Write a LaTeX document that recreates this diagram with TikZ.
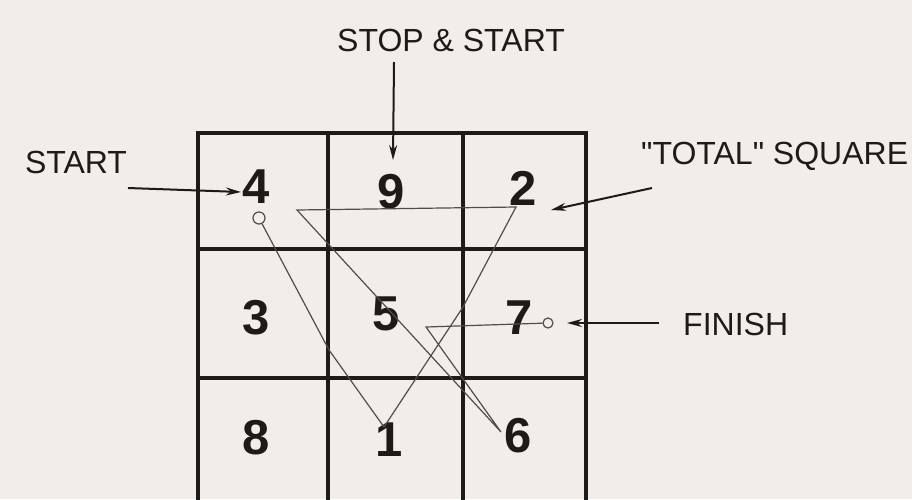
\documentclass[tikz,border=0pt]{standalone}
\usepackage{fontspec}
\setmainfont{Liberation Sans}[Ligatures=TeXOff]
\usetikzlibrary{arrows.meta}
\definecolor{paper}{RGB}{241,237,233}
\definecolor{ink}{RGB}{30,26,24}
\definecolor{pathgray}{RGB}{80,76,74}
\tikzset{
  labeltext/.style={inner sep=0pt, text=ink, font=\fontsize{32}{34}\selectfont},
  digit/.style={inner sep=0pt, text=ink, font=\fontsize{49}{52}\selectfont\bfseries},
  gridline/.style={line width=3.6pt, draw=ink},
  pointer/.style={line width=2pt, draw=ink, -{Stealth[length=15pt,width=8pt]}},
  route/.style={line width=1.2pt, draw=pathgray},
  ring/.style={circle, draw=pathgray, line width=1.2pt, minimum size=12pt, inner sep=0pt}
}
\begin{document}
\begin{tikzpicture}[x=1pt,y=-1pt]
\useasboundingbox (0,0) rectangle (912,499);
\fill[paper] (0,0) rectangle (912,499);
\clip (0,0) rectangle (912,499);
% grid
\draw[gridline] (198,133) rectangle (586,504);
\draw[gridline] (328,133) -- (328,504);
\draw[gridline] (463,133) -- (463,504);
\draw[gridline] (198,249) -- (586,249);
\draw[gridline] (198,378) -- (586,378);
% digits
\node[digit] (n4) at (256,187) {4};
\node[digit] (n9) at (391,192) {9};
\node[digit] (n2) at (523,188) {2};
\node[digit] (n3) at (256,318) {3};
\node[digit] (n5) at (386,314) {5};
\node[digit] (n7) at (519,318) {7};
\node[digit] (n8) at (256,438) {8};
\node[digit] (n1) at (389,440) {1};
\node[digit] (n6) at (518,436) {6};
% labels
\node[labeltext] (lstop) at (451,40) {STOP \& START};
\node[labeltext] (lstart) at (76,162) {START};
\node[labeltext, anchor=west] (ltotal) at (641,156) {"TOTAL" SQUARE};
\node[labeltext, anchor=west] (lfinish) at (683,324) {FINISH};
% pointer arrows
\coordinate (a1s) at (394,62);
\coordinate (a1e) at (393,160);
\coordinate (a2s) at (128,188);
\coordinate (a2e) at (241,192);
\coordinate (a3s) at (652,188);
\coordinate (a3e) at (551,210);
\coordinate (a4s) at (659,323);
\coordinate (a4e) at (567,323);
\draw[pointer] (a1s) -- (a1e);
\draw[pointer] (a2s) -- (a2e);
\draw[pointer] (a3s) -- (a3e);
\draw[pointer] (a4s) -- (a4e);
% route
\node[ring] (startring) at (259,218) {};
\node[ring, minimum size=10pt] (endring) at (548,323) {};
\coordinate (p1) at (329,350);
\coordinate (p2) at (384,427);
\coordinate (p3) at (463,307);
\coordinate (p4) at (516,207);
\coordinate (p5) at (297,210);
\coordinate (p6) at (501,432);
\coordinate (p7) at (426,327);
\draw[route] (startring) -- (p1) -- (p2) -- (p3) -- (p4) -- (p5) -- (p6) -- (p7) -- (endring);
\end{tikzpicture}
\end{document}
